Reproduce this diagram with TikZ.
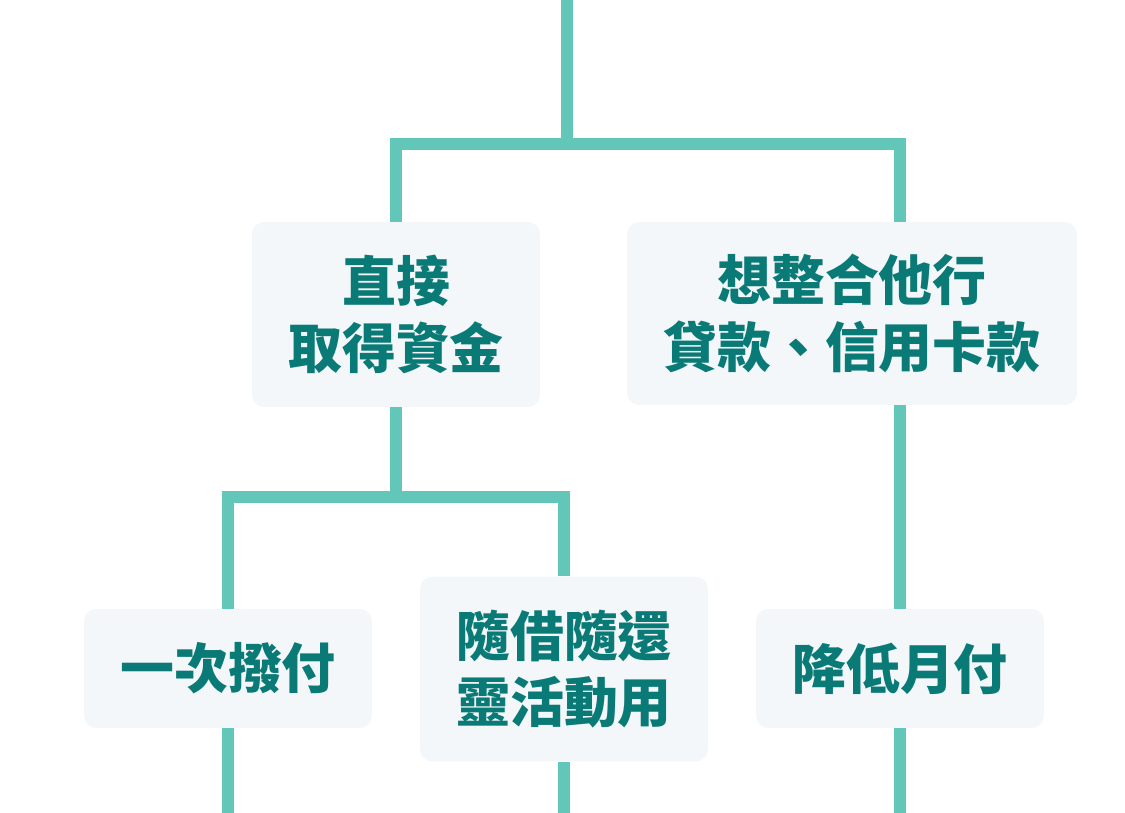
\documentclass[tikz,border=0pt]{standalone}
\usepackage{fontspec}
\newfontfamily\cjk{Noto Sans CJK TC}
\definecolor{branch}{HTML}{62C6B8}
\definecolor{boxbg}{HTML}{F3F7FA}
\definecolor{label}{HTML}{0A7A76}
\tikzset{
  card/.style={fill=boxbg,rounded corners=0.24cm,inner sep=0pt,align=center,
    text=label,font=\cjk\bfseries\fontsize{30.7}{37.8}\selectfont},
  link/.style={branch,line width=0.24cm,line join=miter}
}
\begin{document}
\begin{tikzpicture}[x=0.02cm,y=-0.02cm]
\useasboundingbox(0,0)rectangle(1125,813);
%
\node[card,minimum width=5.76cm,minimum height=3.7cm](direct)at(396,314.5){直接\\取得資金};
\node[card,minimum width=9cm,minimum height=3.66cm](merge)at(852,313.5){想整合他行\\貸款、信用卡款};
\node[card,minimum width=5.76cm,minimum height=2.38cm](lump)at(228,668.5){一次撥付};
\node[card,minimum width=5.76cm,minimum height=3.7cm](flex)at(564,669){隨借隨還\\靈活動用};
\node[card,minimum width=5.76cm,minimum height=2.38cm](lower)at(900,668.5){降低月付};
%
\coordinate(root)at(567,0);
\coordinate(split)at(567,144);
\coordinate(mergein)at(900,222);
\coordinate(mergeout)at(900,405);
\coordinate(split2)at(396,497);
\draw[link](root)--(split);
\draw[link](direct.north)|-(split)-|(mergein);
\draw[link](direct.south)--(split2);
\draw[link](lump.north)|-(split2)-|(flex.north);
\draw[link](mergeout)--(lower.north);
\draw[link](lump.south)--++(0,85);
\draw[link](flex.south)--++(0,52);
\draw[link](lower.south)--++(0,85);
\end{tikzpicture}
\end{document}
